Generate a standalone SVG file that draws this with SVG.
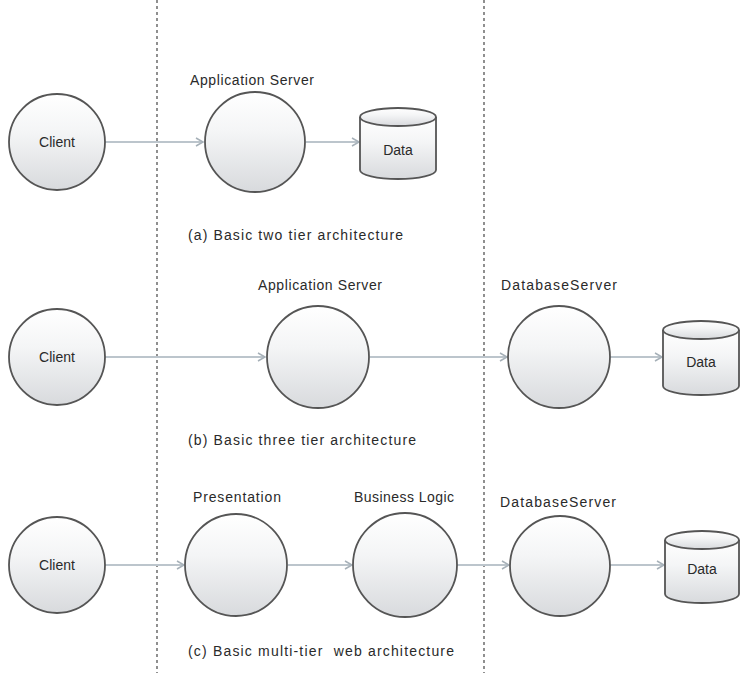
<svg xmlns="http://www.w3.org/2000/svg" width="752" height="673" viewBox="0 0 752 673">
<defs>
<linearGradient id="g" x1="0" y1="0" x2="0" y2="1">
<stop offset="0" stop-color="#ffffff"/>
<stop offset="0.4" stop-color="#f4f5f6"/>
<stop offset="1" stop-color="#d8dadd"/>
</linearGradient>
<marker id="arr" markerWidth="10" markerHeight="10" refX="8" refY="5" orient="auto" markerUnits="userSpaceOnUse">
<path d="M1,1 L8,5 L1,9" fill="none" stroke="#a6b0b8" stroke-width="1.5"/>
</marker>
<style>
.node{fill:url(#g);stroke:#555;stroke-width:1.8}
.t{font-family:"Liberation Sans",Arial,sans-serif;font-size:14px;fill:#2a2a2a}
.c{text-anchor:middle}
.cap{font-family:"Liberation Sans",Arial,sans-serif;font-size:14px;fill:#2a2a2a;white-space:pre}
.sep{stroke:#555;stroke-width:1.3;stroke-dasharray:3,3}
.conn line{stroke:#bcc5cc;stroke-width:2;marker-end:url(#arr)}
</style>
</defs>
<rect width="752" height="673" fill="#fff"/>
<g id="separators">
<line class="sep" x1="157" y1="0" x2="157" y2="673"/>
<line class="sep" x1="484" y1="0" x2="484" y2="673"/>
</g>
<g id="connectors" class="conn">
<line x1="105" y1="142" x2="203" y2="142"/>
<line x1="306" y1="142" x2="359" y2="142"/>
<line x1="105" y1="357" x2="265" y2="357"/>
<line x1="370" y1="357" x2="507" y2="357"/>
<line x1="610" y1="357" x2="662" y2="357"/>
<line x1="105" y1="565" x2="184" y2="565"/>
<line x1="288" y1="565" x2="352" y2="565"/>
<line x1="457" y1="565" x2="509" y2="565"/>
<line x1="610" y1="565" x2="664" y2="565"/>
</g>
<g id="client-a"><circle class="node" cx="57" cy="142" r="48"/><text class="t c" x="57" y="147">Client</text></g>
<g id="appserver-a"><circle class="node" cx="255" cy="142" r="50"/><text class="t" x="190" y="85" textLength="124">Application Server</text></g>
<g id="data-a">
<path class="node" d="M360,117 L360,170 A38,9 0 0 0 436,170 L436,117"/>
<ellipse class="node" cx="398" cy="117" rx="38" ry="9"/>
<text class="t c" x="398" y="155">Data</text>
</g>
<text id="caption-a" class="cap" x="188" y="240" textLength="215">(a) Basic two tier architecture</text>

<g id="client-b"><circle class="node" cx="57" cy="357" r="48"/><text class="t c" x="57" y="362">Client</text></g>
<g id="appserver-b"><circle class="node" cx="318" cy="357" r="51"/><text class="t" x="258" y="290" textLength="124">Application Server</text></g>
<g id="dbserver-b"><circle class="node" cx="559" cy="357" r="51"/><text class="t" x="501" y="290" textLength="116">DatabaseServer</text></g>
<g id="data-b">
<path class="node" d="M663,330 L663,386 A38,9 0 0 0 739,386 L739,330"/>
<ellipse class="node" cx="701" cy="330" rx="38" ry="9"/>
<text class="t c" x="701" y="367">Data</text>
</g>
<text id="caption-b" class="cap" x="188" y="445" textLength="228">(b) Basic three tier architecture</text>

<g id="client-c"><circle class="node" cx="57" cy="565" r="48"/><text class="t c" x="57" y="570">Client</text></g>
<g id="presentation-c"><circle class="node" cx="236" cy="565" r="51"/><text class="t" x="193" y="502" textLength="88">Presentation</text></g>
<g id="business-c"><circle class="node" cx="405" cy="565" r="52"/><text class="t" x="354" y="502" textLength="100">Business Logic</text></g>
<g id="dbserver-c"><circle class="node" cx="560" cy="566" r="50"/><text class="t" x="500" y="507" textLength="116">DatabaseServer</text></g>
<g id="data-c">
<path class="node" d="M665,540 L665,594 A37,9 0 0 0 739,594 L739,540"/>
<ellipse class="node" cx="702" cy="540" rx="37" ry="9"/>
<text class="t c" x="702" y="574">Data</text>
</g>
<text id="caption-c" class="cap" x="188" y="656" textLength="266">(c) Basic multi-tier  web architecture</text>
</svg>
